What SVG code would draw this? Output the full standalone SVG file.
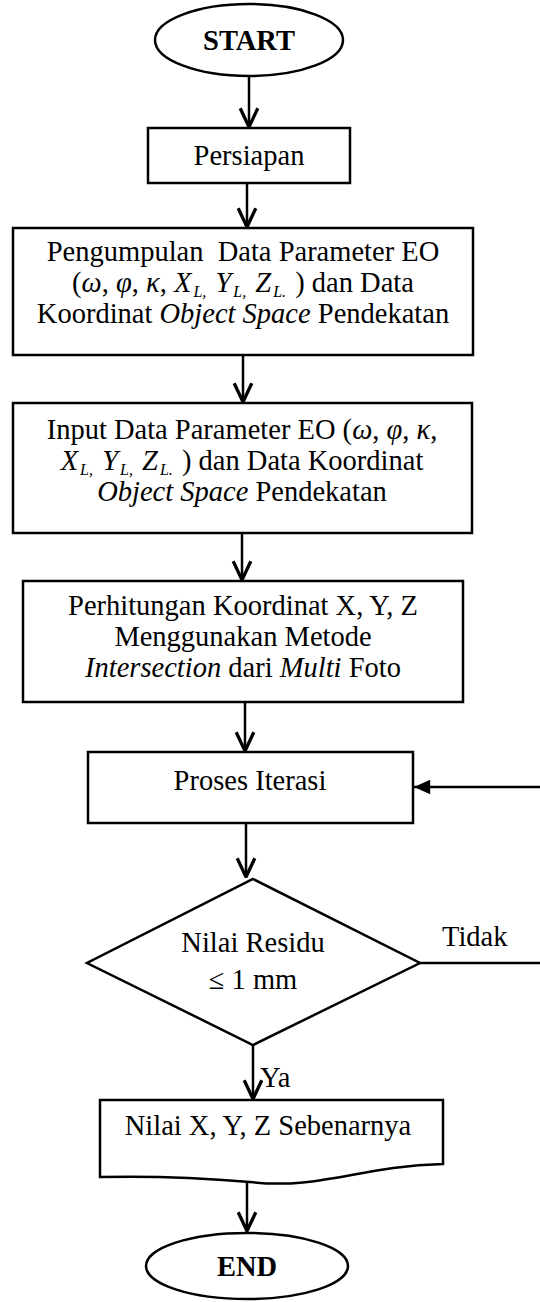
<svg xmlns="http://www.w3.org/2000/svg" width="540" height="1302" viewBox="0 0 540 1302">
  <style>
    .shape { fill: #fff; stroke: #000; stroke-width: 2.5; }
    .line { fill: none; stroke: #000; stroke-width: 2.5; }
    .txt { font-family: "Liberation Serif", "Times New Roman", serif; font-size: 28.5px; fill: #000; text-anchor: middle; }
    .start { text-anchor: start; }
    .bold { font-weight: bold; }
    .it { font-style: italic; }
    .sub { font-size: 16px; font-style: italic; }
  </style>
  <defs>
    <marker id="open" viewBox="0 0 20 20" refX="19" refY="10" markerWidth="22" markerHeight="22" markerUnits="userSpaceOnUse" orient="auto">
      <path d="M2,2 L19,10 L2,18" fill="none" stroke="#000" stroke-width="3"/>
    </marker>
    <marker id="solid" viewBox="0 0 20 20" refX="19" refY="10" markerWidth="18" markerHeight="18" markerUnits="userSpaceOnUse" orient="auto">
      <path d="M1,2 L19,10 L1,18 Z" fill="#000"/>
    </marker>
  </defs>
  <rect width="540" height="1302" fill="#fff"/>

  <g id="connectors">
    <line class="line" x1="249" y1="76" x2="249" y2="127" marker-end="url(#open)"/>
    <line class="line" x1="247" y1="183" x2="247" y2="227" marker-end="url(#open)"/>
    <line class="line" x1="243" y1="355" x2="243" y2="402" marker-end="url(#open)"/>
    <line class="line" x1="242" y1="533" x2="242" y2="580" marker-end="url(#open)"/>
    <line class="line" x1="245" y1="702" x2="245" y2="751" marker-end="url(#open)"/>
    <line class="line" x1="246" y1="823" x2="246" y2="877" marker-end="url(#open)"/>
    <line class="line" x1="253" y1="1045" x2="253" y2="1099" marker-end="url(#open)"/>
    <line class="line" x1="247" y1="1182" x2="247" y2="1231" marker-end="url(#open)"/>
    <line class="line" x1="420" y1="963" x2="540" y2="963"/>
    <line class="line" x1="540" y1="787" x2="414" y2="787" marker-end="url(#solid)"/>
    <text class="txt start" x="442" y="946">Tidak</text>
    <text class="txt start" x="260" y="1087">Ya</text>
  </g>

  <g id="start">
    <ellipse class="shape" cx="249" cy="40" rx="94" ry="36"/>
    <text class="txt bold" x="249" y="50">START</text>
  </g>

  <g id="persiapan">
    <rect class="shape" x="148" y="128" width="202" height="55"/>
    <text class="txt" x="249" y="165">Persiapan</text>
  </g>

  <g id="pengumpulan">
    <rect class="shape" x="13" y="228" width="460" height="127"/>
    <text class="txt" x="243" y="261" xml:space="preserve">Pengumpulan  Data Parameter EO</text>
    <text class="txt" x="243" y="292">(<tspan class="it">ω</tspan>, <tspan class="it">φ</tspan>, <tspan class="it">κ</tspan>, <tspan class="it">X</tspan><tspan class="sub" dx="2" dy="5">L,</tspan><tspan dx="2" dy="-5"> </tspan><tspan class="it">Y</tspan><tspan class="sub" dx="2" dy="5">L,</tspan><tspan dx="2" dy="-5"> </tspan><tspan class="it">Z</tspan><tspan class="sub" dx="2" dy="5">L.</tspan><tspan dx="2" dy="-5"> ) dan Data</tspan></text>
    <text class="txt" x="243" y="323">Koordinat <tspan class="it">Object Space</tspan> Pendekatan</text>
  </g>

  <g id="input">
    <rect class="shape" x="13" y="403" width="459" height="130"/>
    <text class="txt" x="242" y="439">Input Data Parameter EO (<tspan class="it">ω</tspan>, <tspan class="it">φ</tspan>, <tspan class="it">κ</tspan>,</text>
    <text class="txt" x="242" y="470"><tspan class="it">X</tspan><tspan class="sub" dx="2" dy="5">L,</tspan><tspan dx="2" dy="-5"> </tspan><tspan class="it">Y</tspan><tspan class="sub" dx="2" dy="5">L,</tspan><tspan dx="2" dy="-5"> </tspan><tspan class="it">Z</tspan><tspan class="sub" dx="2" dy="5">L.</tspan><tspan dx="2" dy="-5"> ) dan Data Koordinat</tspan></text>
    <text class="txt" x="242" y="501"><tspan class="it">Object Space</tspan> Pendekatan</text>
  </g>

  <g id="perhitungan">
    <rect class="shape" x="23" y="581" width="440" height="121"/>
    <text class="txt" x="243" y="615">Perhitungan Koordinat X, Y, Z</text>
    <text class="txt" x="243" y="646">Menggunakan Metode</text>
    <text class="txt" x="243" y="677"><tspan class="it">Intersection</tspan> dari <tspan class="it">Multi</tspan> Foto</text>
  </g>

  <g id="iterasi">
    <rect class="shape" x="88" y="752" width="325" height="71"/>
    <text class="txt" x="250" y="790">Proses Iterasi</text>
  </g>

  <g id="residu">
    <polygon class="shape" points="253,879 420,963 253,1045 87,963"/>
    <text class="txt" x="253" y="952">Nilai Residu</text>
    <text class="txt" x="253" y="989">≤ 1 mm</text>
  </g>

  <g id="hasil">
    <path class="shape" d="M100,1100 H443 V1164 C 360,1166 320,1190 250,1182 C 180,1176 140,1176 100,1177 Z"/>
    <text class="txt" x="268" y="1135">Nilai X, Y, Z Sebenarnya</text>
  </g>

  <g id="end">
    <ellipse class="shape" cx="247" cy="1266" rx="101" ry="33"/>
    <text class="txt bold" x="247" y="1276">END</text>
  </g>
</svg>
